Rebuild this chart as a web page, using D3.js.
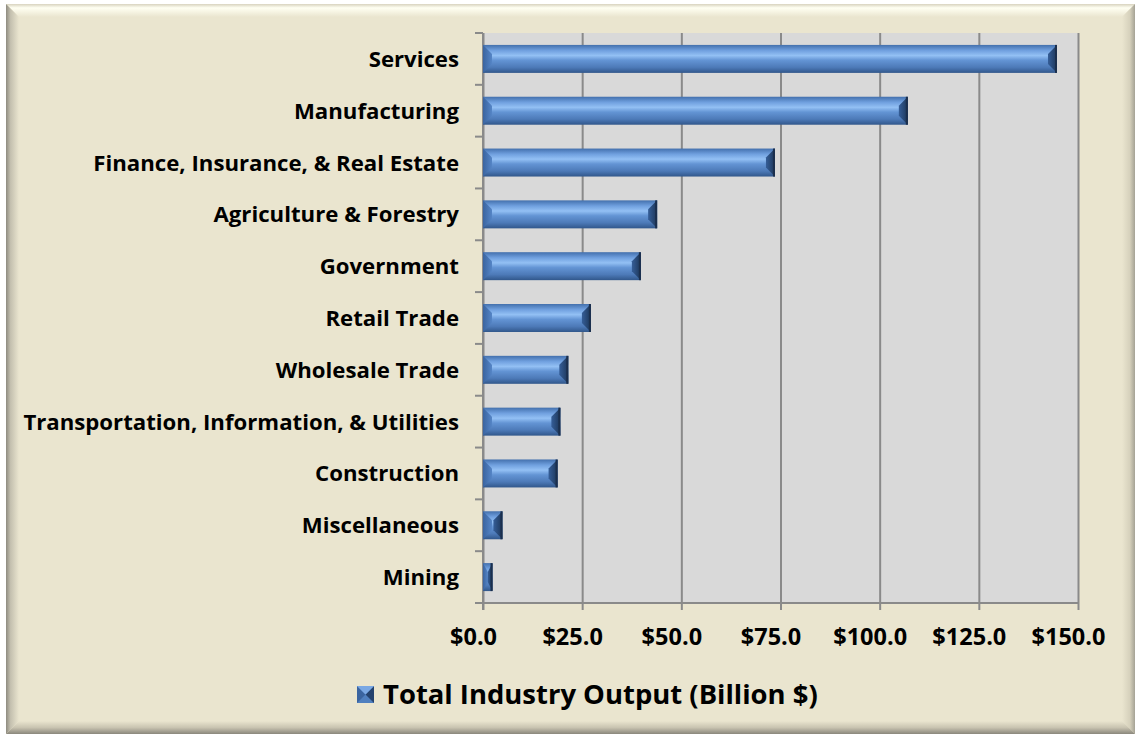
<!DOCTYPE html>
<html lang="en">
  <head>
    <meta charset="utf-8">
    <title>Total Industry Output</title>
    <script src="https://d3js.org/d3.v7.min.js"></script>
    <style media="screen" type="text/css">
      body { margin: 0; background: #fff; }
      svg text { font-family: "Open Sans", Lato, sans-serif; font-weight: bold; fill: #000; }
    </style>
  </head>
  <body>
    <div id="main"></div>
    <script type="text/javascript">
      // Data
      const categories = ['Services', 'Manufacturing', 'Finance, Insurance, & Real Estate',
        'Agriculture & Forestry', 'Government', 'Retail Trade', 'Wholesale Trade',
        'Transportation, Information, & Utilities', 'Construction', 'Miscellaneous', 'Mining'];
      const values = [144.7, 107.1, 73.6, 43.9, 39.8, 27.2, 21.5, 19.5, 18.8, 4.9, 2.4];
      const xTicks = [0, 25, 50, 75, 100, 125, 150];
      const seriesName = 'Total Industry Output (Billion $)';

      const W = 1138, H = 736;
      const plot = { left: 483, right: 1078, top: 33, bottom: 603 };

      const svg = d3.select('#main').append('svg')
        .attr('width', W).attr('height', H);

      // fit a text selection so that its widest item is `target` px wide
      function fitWidth(sel, target) {
        let widest = 0;
        sel.each(function () { widest = Math.max(widest, this.getComputedTextLength()); });
        const fs = parseFloat(sel.attr('font-size'));
        sel.attr('font-size', fs * target / widest);
      }

      const defs = svg.append('defs');
      function grad(id, stops, vertical) {
        const g = defs.append('linearGradient').attr('id', id)
          .attr('x1', 0).attr('y1', 0)
          .attr('x2', vertical ? 0 : 1).attr('y2', vertical ? 1 : 0);
        stops.forEach(s => g.append('stop').attr('offset', s[0]).attr('stop-color', s[1]));
      }
      // bar body
      grad('barBody', [[0, '#4370ad'], [0.2, '#70a0df'], [0.38, '#93c0f4'], [0.55, '#6394d4'], [0.8, '#4d7ab8'], [1, '#31578b']], true);
      grad('barLeft', [[0, '#3a64a0'], [1, '#5585c6']], false);
      grad('barRight', [[0, '#355e98'], [1, '#1d3658']], false);
      grad('bevTop', [[0, '#d8d3bf'], [0.3, '#fffff2'], [1, '#eae5cf']], true);
      grad('bevLeft', [[0, '#8e8b80'], [0.35, '#c4c0af'], [1, '#eae5cf']], false);
      grad('bevRight', [[0, '#eae5cf'], [0.6, '#d6d1bc'], [1, '#a5a295']], false);
      grad('bevBottom', [[0, '#eae5cf'], [0.5, '#c9c4b1'], [1, '#8a877c']], true);

      // Chart frame with bevel
      const fx0 = 6, fy0 = 4, fx1 = 1135, fy1 = 734, b = 13;
      svg.append('rect').attr('x', fx0).attr('y', fy0)
        .attr('width', fx1 - fx0).attr('height', fy1 - fy0).attr('fill', '#eae5cf');
      const bevels = [
        ['bevTop', [[fx0, fy0], [fx1, fy0], [fx1 - b, fy0 + b], [fx0 + b, fy0 + b]]],
        ['bevLeft', [[fx0, fy0], [fx0 + b, fy0 + b], [fx0 + b, fy1 - b], [fx0, fy1]]],
        ['bevRight', [[fx1, fy0], [fx1, fy1], [fx1 - b, fy1 - b], [fx1 - b, fy0 + b]]],
        ['bevBottom', [[fx0, fy1], [fx0 + b, fy1 - b], [fx1 - b, fy1 - b], [fx1, fy1]]]
      ];
      svg.selectAll('.bevel').data(bevels).enter().append('polygon')
        .attr('class', 'bevel')
        .attr('points', d => d[1].map(p => p.join(',')).join(' '))
        .attr('fill', d => `url(#${d[0]})`);

      // Scales
      const x = d3.scaleLinear().domain([0, 150]).range([plot.left, plot.right]);
      const y = d3.scaleBand().domain(categories).range([plot.top, plot.bottom]).paddingInner(0.46).paddingOuter(0.23);

      // Plot area
      svg.append('rect').attr('x', plot.left).attr('y', plot.top)
        .attr('width', plot.right - plot.left).attr('height', plot.bottom - plot.top)
        .attr('fill', '#d9d9d9');

      // Gridlines + x axis
      const xAxis = d3.axisBottom(x).tickValues(xTicks)
        .tickSize(-(plot.bottom - plot.top)).tickPadding(24)
        .tickFormat(d => '$' + d3.format('.1f')(d));
      const gx = svg.append('g').attr('transform', `translate(0,${plot.bottom})`).call(xAxis);
      gx.select('.domain').remove();
      gx.selectAll('.tick line').attr('stroke', '#8a8a8a').attr('stroke-width', 2);
      gx.selectAll('.tick').append('line')
        .attr('y1', 0).attr('y2', 7).attr('stroke', '#8a8a8a').attr('stroke-width', 2);
      const tickText = gx.selectAll('.tick text').attr('font-size', 19).attr('dy', '0.75em')
        .attr('dx', -10)
        .attr('font-family', '"Open Sans", sans-serif');
      fitWidth(tickText, 74);
      // bottom axis line
      svg.append('line').attr('x1', plot.left - 8).attr('x2', plot.right)
        .attr('y1', plot.bottom).attr('y2', plot.bottom)
        .attr('stroke', '#8a8a8a').attr('stroke-width', 2);

      // Category axis
      const boundaries = d3.range(categories.length + 1).map(i => plot.top + i * (plot.bottom - plot.top) / categories.length);
      svg.selectAll('.ytick').data(boundaries).enter().append('line')
        .attr('class', 'ytick')
        .attr('x1', plot.left - 8).attr('x2', plot.left)
        .attr('y1', d => d).attr('y2', d => d)
        .attr('stroke', '#8a8a8a').attr('stroke-width', 2);
      svg.append('line').attr('x1', plot.left).attr('x2', plot.left)
        .attr('y1', plot.top).attr('y2', plot.bottom + 7)
        .attr('stroke', '#8a8a8a').attr('stroke-width', 2);
      const yLabels = svg.selectAll('.ylabel').data(categories).enter().append('text')
        .attr('class', 'ylabel')
        .attr('x', plot.left - 24)
        .attr('y', d => y(d) + y.bandwidth() / 2)
        .attr('dy', '0.36em')
        .attr('text-anchor', 'end')
        .attr('font-size', 19)
        .text(d => d);
      fitWidth(yLabels, 436);

      // Bars with bevel
      const bars = categories.map((c, i) => ({ name: c, value: values[i] }));
      const g = svg.selectAll('.bar').data(bars).enter().append('g').attr('class', 'bar');
      g.each(function (d) {
        const sel = d3.select(this);
        const x0 = x(0), x1 = x(d.value), y0 = y(d.name), y1 = y0 + y.bandwidth();
        const bv = Math.min(9, (x1 - x0) / 2);
        const hv = Math.min(9, (y1 - y0) / 2);
        sel.append('rect').attr('x', x0).attr('y', y0)
          .attr('width', x1 - x0).attr('height', y1 - y0).attr('fill', 'url(#barBody)');
        sel.append('polygon')
          .attr('points', [[x0, y0], [x0 + bv, y0 + hv], [x0 + bv, y1 - hv], [x0, y1]].map(p => p.join(',')).join(' '))
          .attr('fill', 'url(#barLeft)');
        sel.append('polygon')
          .attr('points', [[x1, y0], [x1 - bv, y0 + hv], [x1 - bv, y1 - hv], [x1, y1]].map(p => p.join(',')).join(' '))
          .attr('fill', 'url(#barRight)');
        sel.append('line').attr('x1', x1 - 1).attr('x2', x1 - 1).attr('y1', y0).attr('y2', y1)
          .attr('stroke', '#1b2f4d').attr('stroke-width', 2);
      });

      // Legend
      const lx = 357, ly = 686, ls = 17;
      const lg = svg.append('g');
      lg.append('rect').attr('x', lx).attr('y', ly).attr('width', ls).attr('height', ls).attr('fill', '#4f7fbf');
      lg.append('polygon').attr('points', `${lx},${ly} ${lx + ls / 2},${ly + ls / 2} ${lx},${ly + ls}`).attr('fill', '#3a64a0');
      lg.append('polygon').attr('points', `${lx + ls},${ly} ${lx + ls / 2},${ly + ls / 2} ${lx + ls},${ly + ls}`).attr('fill', '#24426e');
      lg.append('polygon').attr('points', `${lx},${ly} ${lx + ls},${ly} ${lx + ls / 2},${ly + ls / 2}`).attr('fill', '#7aa8e4');
      const legendText = lg.append('text').attr('x', lx + ls + 9).attr('y', ly + ls / 2).attr('dy', '0.36em')
        .attr('font-size', 26).text(seriesName);
      fitWidth(legendText, 435);
    </script>
  </body>
</html>
